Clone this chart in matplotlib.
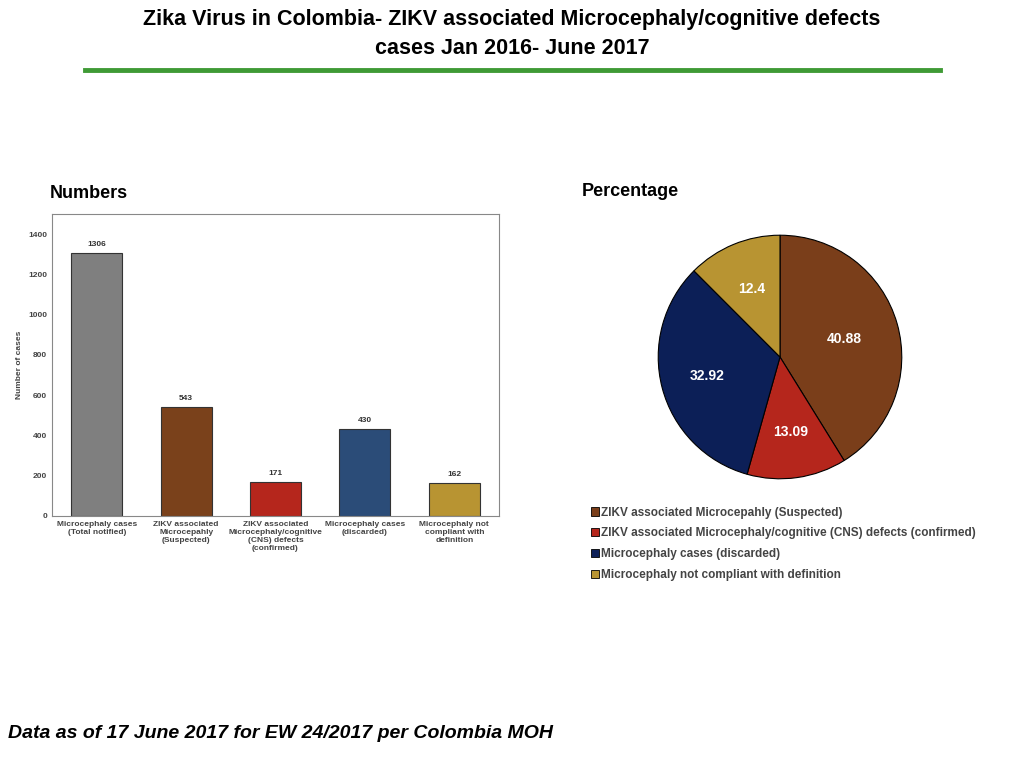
import numpy as np
import matplotlib.pyplot as plt
from matplotlib.patches import Patch

plt.rcParams['font.family'] = ['Liberation Sans', 'DejaVu Sans']

bar_labels = ['Microcephaly cases\n(Total notified)', 'ZIKV associated\nMicrocepahly\n(Suspected)',
              'ZIKV associated\nMicrocephaly/cognitive\n(CNS) defects\n(confirmed)',
              'Microcephaly cases\n(discarded)', 'Microcephaly not\ncompliant with\ndefinition']
bar_values = [1306, 543, 171, 430, 162]
bar_colors = ['#7f7f7f', '#7a411b', '#b5261c', '#2b4c78', '#b89432']

pie_labels = ['ZIKV associated Microcepahly (Suspected)',
              'ZIKV associated Microcephaly/cognitive (CNS) defects (confirmed)',
              'Microcephaly cases (discarded)',
              'Microcephaly not compliant with definition']
pie_values = [40.88, 13.09, 32.92, 12.4]
pie_colors = ['#7a3e1a', '#b5261c', '#0c1f57', '#b89432']

fig = plt.figure(figsize=(10.24, 7.68), dpi=100)

fig.text(0.5, 1-20/768, 'Zika Virus in Colombia- ZIKV associated Microcephaly/cognitive defects',
         ha='center', va='center', fontsize=15.5, fontweight='bold')
fig.text(0.5, 1-48/768, 'cases Jan 2016- June 2017',
         ha='center', va='center', fontsize=15.5, fontweight='bold')
fig.add_artist(plt.Line2D([85/1024, 940/1024], [1-70/768]*2, color='#3f9a35', lw=3.5))
fig.text(50/1024, 1-193/768, 'Numbers', fontsize=13, fontweight='bold', va='center')
fig.text(582/1024, 1-191/768, 'Percentage', fontsize=13, fontweight='bold', va='center')
fig.text(8/1024, 1-733/768, 'Data as of 17 June 2017 for EW 24/2017 per Colombia MOH',
         fontsize=14, fontweight='bold', style='italic', va='center')

# bar chart
ax = fig.add_axes([52/1024, 1-516/768, 447/1024, 302/768])
x = list(range(len(bar_values)))
ax.bar(x, bar_values, width=0.57, color=bar_colors, edgecolor='#333333', lw=0.8)
for xi, v in zip(x, bar_values):
    ax.text(xi, v + 25, str(v), ha='center', va='bottom', fontsize=6, fontweight='bold', color='#333333')
ax.set_ylim(0, 1500)
ax.set_xlim(-0.5, 4.5)
ax.set_yticks(range(0, 1401, 200))
ax.set_xticks(x)
ax.set_xticklabels(bar_labels, fontsize=6, fontweight='bold', color='#444444')
ax.tick_params(axis='y', labelsize=6, length=0, colors='#444444')
ax.tick_params(axis='x', length=0)
for lab in ax.get_yticklabels():
    lab.set_fontweight('bold')
ax.set_ylabel('Number of cases', fontsize=6, fontweight='bold', color='#444444')
for s in ax.spines.values():
    s.set_color('#888888')

# pie chart
pax = fig.add_axes([657/1024, 1-480/768, 246/1024, 246/768])
wedges, texts = pax.pie(pie_values, colors=pie_colors, startangle=90, counterclock=False,
                        wedgeprops=dict(edgecolor='black', lw=0.8))
fracs = [0.55, 0.62, 0.62, 0.6]
for w, v, r in zip(wedges, pie_values, fracs):
    ang = np.deg2rad((w.theta1 + w.theta2) / 2)
    pax.text(r*np.cos(ang), r*np.sin(ang), str(v), ha='center', va='center',
             color='white', fontsize=10, fontweight='bold')
pax.set_xlim(-1.01, 1.01)
pax.set_ylim(-1.01, 1.01)
pax.set_aspect('equal')

handles = [Patch(facecolor=c, edgecolor='black', lw=0.6) for c in pie_colors]
fig.legend(handles, pie_labels, loc='upper left', bbox_to_anchor=(580/1024, 1-496/768),
           frameon=False, handlelength=0.7, handleheight=0.7,
           handletextpad=0.2, labelspacing=0.75, prop={'weight': 'bold', 'size': 8.5})
for t in fig.legends[0].get_texts():
    t.set_color('#444444')

fig.savefig('out.png')
